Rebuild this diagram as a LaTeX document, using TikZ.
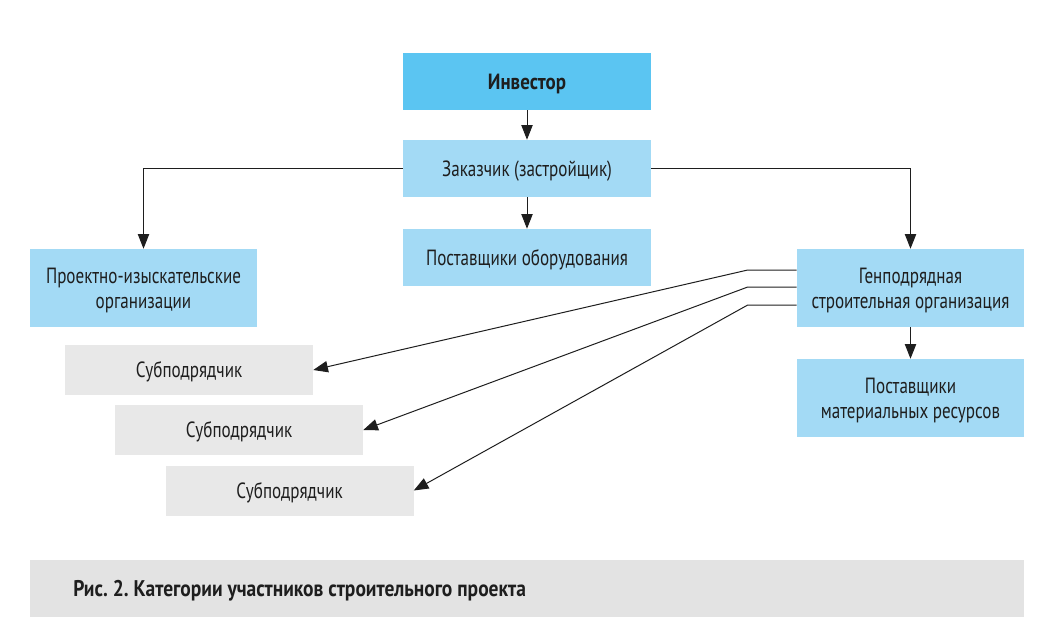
\documentclass[tikz,border=0pt]{standalone}
\usepackage{fontspec}
\setmainfont[FakeStretch=0.775]{PT Sans}
\newfontfamily\capfont[FakeStretch=0.86]{PT Sans}
\usepackage{xcolor}
\usetikzlibrary{arrows.meta, positioning}
\definecolor{invblue}{HTML}{5BC5F2}
\definecolor{boxblue}{HTML}{A3DAF5}
\definecolor{subgrey}{HTML}{E8E8E8}
\definecolor{capgrey}{HTML}{E3E3E3}
\definecolor{inkdark}{HTML}{1E1E1E}
\frenchspacing

\begin{document}
\begin{tikzpicture}[x=0.75pt, y=-0.75pt, font=\fontsize{16.5}{18.5}\selectfont, text=inkdark,
  topbox/.style={rectangle, fill=boxblue, minimum width=186pt, minimum height=42.75pt, inner sep=0pt, text depth=0pt},
  sidebox/.style={rectangle, fill=boxblue, minimum width=170.25pt, minimum height=58.5pt, inner sep=0pt, align=center, text depth=0pt},
  subbox/.style={rectangle, fill=subgrey, minimum width=186pt, minimum height=37.5pt, inner sep=0pt, text depth=0pt},
  arr/.style={draw=inkdark, line width=0.75pt, -{Triangle[length=11pt, width=8.5pt]}}]
  \useasboundingbox (0,0) rectangle (1053,632);
  % top column
  \node[topbox, fill=invblue, font=\fontsize{16.5}{18}\capfont\bfseries] (Inv) at (527,81.5) {Инвестор};
  \node[topbox] (Zak) at (527,168.5) {Заказчик (застройщик)};
  \node[topbox] (PostOb) at (527,257.5) {Поставщики оборудования};
  % sides
  \node[sidebox] (Proekt) at (143.5,288) {Проектно-изыскательские\\организации};
  \node[sidebox] (Gen) at (910.5,288) {Генподрядная\\строительная организация};
  \node[sidebox] (PostMat) at (910.5,398) {Поставщики\\материальных ресурсов};
  % subcontractors
  \node[subbox] (Sub1) at (189,370) {Субподрядчик};
  \node[subbox] (Sub2) at (239,430) {Субподрядчик};
  \node[subbox] (Sub3) at (289.5,490.5) {Субподрядчик};
  % caption
  \node[rectangle, fill=capgrey, minimum width=745.5pt, minimum height=42.75pt] (Cap) at (527,588.5) {};
  \node[anchor=west, inner sep=0pt, text depth=0pt, font=\fontsize{17}{18}\capfont\bfseries] (CapText) at (73,588.5) {Рис. 2. Категории участников строительного проекта};

  \draw[arr] (Inv) -- (Zak);
  \draw[arr] (Zak) -- (PostOb);
  \draw[arr] (Zak.west) -| (Proekt);
  \draw[arr] (Zak.east) -| (Gen);
  \draw[arr] (Gen) -- (PostMat);
  \draw[arr] ([yshift=13.5pt]Gen.west) -- ++(-36.75pt,0) -- (Sub1.east);
  \draw[arr] ([yshift=0.75pt]Gen.west) -- ++(-36.75pt,0) -- (Sub2.east);
  \draw[arr] ([yshift=-12.75pt]Gen.west) -- ++(-36.75pt,0) -- (Sub3.east);
\end{tikzpicture}
\end{document}
